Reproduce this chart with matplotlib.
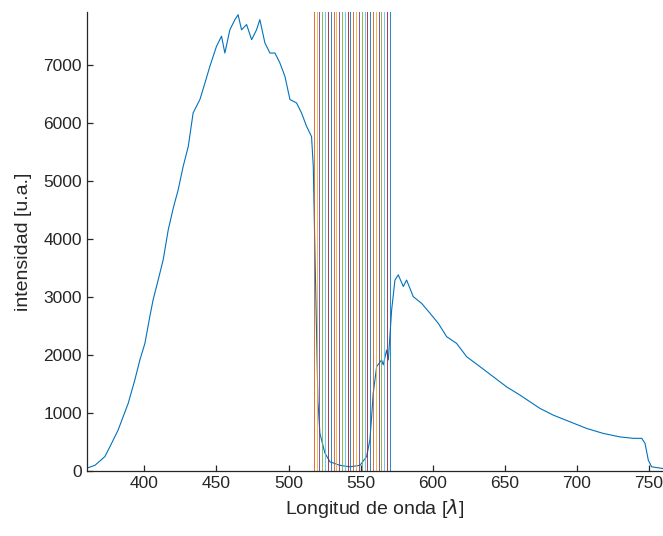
import numpy as np
import matplotlib.pyplot as plt

# spectrum (nm, counts)
longitud = [
    360, 365.6, 372.5, 376, 381.7, 388.7, 393.3, 396.8, 400.3, 403.7,
    406, 409.5, 413, 416.5, 420, 423.4, 426.9, 430.4, 433.8, 438.5,
    442, 445.4, 450, 453.5, 455.8, 459.3, 462.8, 465, 467.4, 470.9,
    474.4, 477.8, 480.1, 483.6, 487.1, 490.6, 494, 497.5, 501, 505.6,
    509, 512.6, 516, 517.2, 517.6, 520.4, 521.8, 525.3, 528.8, 535.7,
    542.6, 549.6, 554.2, 556.5, 557.7, 558.8, 561.2, 564.6, 565.8, 568.1,
    569.3, 571.6, 573.9, 576.2, 579.7, 582, 586.6, 592.4, 598.2, 604,
    609.8, 616.7, 623.7, 632.9, 642.2, 651.5, 660.7, 667.6, 674.6, 683.8,
    695.4, 707, 718.5, 730, 739.4, 745.2, 747.5, 749.8, 752.1, 760,
]
intensidad = [
    52, 100, 250, 420, 707, 1167, 1570, 1914, 2200, 2660,
    2950, 3290, 3640, 4155, 4530, 4845, 5250, 5590, 6170, 6400,
    6685, 6970, 7315, 7490, 7200, 7600, 7775, 7860, 7600, 7690,
    7430, 7600, 7775, 7375, 7200, 7200, 7030, 6800, 6400, 6340,
    6170, 5935, 5760, 5250, 4730, 1220, 650, 310, 160, 100,
    75, 100, 250, 535, 935, 1340, 1800, 1915, 1830, 2085,
    1915, 2775, 3290, 3380, 3180, 3290, 3005, 2890, 2720, 2545,
    2315, 2200, 1970, 1800, 1625, 1450, 1310, 1195, 1080, 965,
    850, 735, 650, 590, 565, 565, 480, 190, 75, 45,
]

# marked wavelengths
lineas = np.linspace(517.6, 570.4, 28)

matlab_colores = ['#0072BD', '#D95319', '#EDB120', '#7E2F8E',
                  '#77AC30', '#4DBEEE', '#A2142F']

plt.rcParams['font.family'] = ['Liberation Sans', 'DejaVu Sans']

fig = plt.figure(figsize=(6.63, 5.36), dpi=100)
ax = fig.add_axes([0.131, 0.121, 0.869, 0.857])

ax.plot(longitud, intensidad, color=matlab_colores[0], lw=0.8)
for i, l in enumerate(lineas):
    ax.axvline(l, color=matlab_colores[(i + 1) % 7], lw=0.7, alpha=0.85)

ax.set_xlim(360, 760)
ax.set_ylim(0, 7910)
ax.set_xticks(range(400, 751, 50))
ax.set_yticks(range(0, 7001, 1000))

gris = '#262626'
for s in ['top', 'right']:
    ax.spines[s].set_visible(False)
for s in ['left', 'bottom']:
    ax.spines[s].set_color(gris)
    ax.spines[s].set_linewidth(0.9)
ax.tick_params(direction='in', length=4, colors=gris, labelsize=12.5, width=0.9)

ax.set_xlabel(r'Longitud de onda [$\lambda$]', fontsize=14, color=gris)
ax.set_ylabel('intensidad [u.a.]', fontsize=14, color=gris, labelpad=8)

fig.savefig('out.png', dpi=100)
